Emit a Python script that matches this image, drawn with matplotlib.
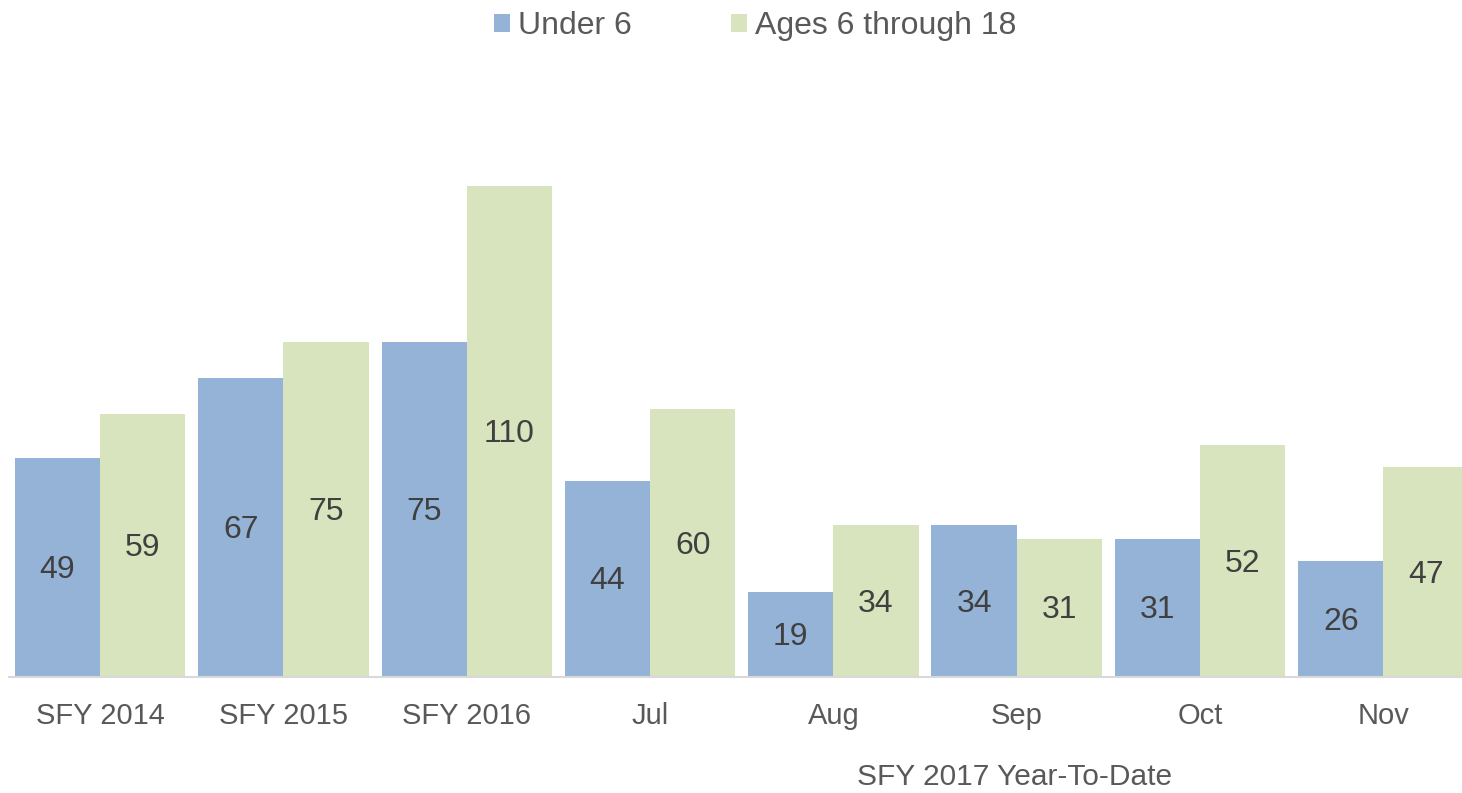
import numpy as np
import matplotlib.pyplot as plt

plt.rcParams['font.family'] = ['Liberation Sans', 'DejaVu Sans']

categories = ['SFY 2014', 'SFY 2015', 'SFY 2016', 'Jul', 'Aug', 'Sep', 'Oct', 'Nov']
under_6 = [49, 67, 75, 44, 19, 34, 31, 26]
ages_6_18 = [59, 75, 110, 60, 34, 31, 52, 47]
series_names = ['Under 6', 'Ages 6 through 18']
ytd_label = 'SFY 2017 Year-To-Date'

blue = '#95B3D7'
green = '#D7E4BD'
txt = '#595959'

W, H = 1462, 793
fig = plt.figure(figsize=(W / 100, H / 100), dpi=100)
# axes runs a bit past the right edge, like the original (last bar clipped)
ax = fig.add_axes([8.5 / W, 116 / H, 1466.5 / W, (677 - 70) / H])

x = np.arange(len(categories))
bw = 0.465
b1 = ax.bar(x - bw / 2, under_6, bw, color=blue, label=series_names[0])
b2 = ax.bar(x + bw / 2, ages_6_18, bw, color=green, label=series_names[1])

for bars, vals in ((b1, under_6), (b2, ages_6_18)):
    for rect, v in zip(bars, vals):
        ax.text(rect.get_x() + rect.get_width() / 2, v / 2 - 0.6, str(v),
                ha='center', va='center', fontsize=23, color='#404040')

ax.set_xlim(-0.5, len(categories) - 0.5)
ax.set_ylim(0, 136)
ax.set_xticks(x)
ax.set_xticklabels(categories, fontsize=21, color=txt)
ax.tick_params(axis='x', length=0, pad=18)
ax.set_yticks([])
for s in ('top', 'left', 'right'):
    ax.spines[s].set_visible(False)
ax.spines['bottom'].set_color('#D9D9D9')
ax.spines['bottom'].set_linewidth(1.5)

fig.legend(loc='center', bbox_to_anchor=(755 / W, 1 - 26 / H), ncol=2,
           frameon=False, fontsize=23, labelcolor=txt,
           handlelength=0.5, handleheight=0.5, handletextpad=0.25,
           columnspacing=3.1)

fig.text(1015 / W, 1 - 777 / H, ytd_label, ha='center', va='center',
         fontsize=21.5, color=txt)

fig.savefig('out.png', dpi=100)
